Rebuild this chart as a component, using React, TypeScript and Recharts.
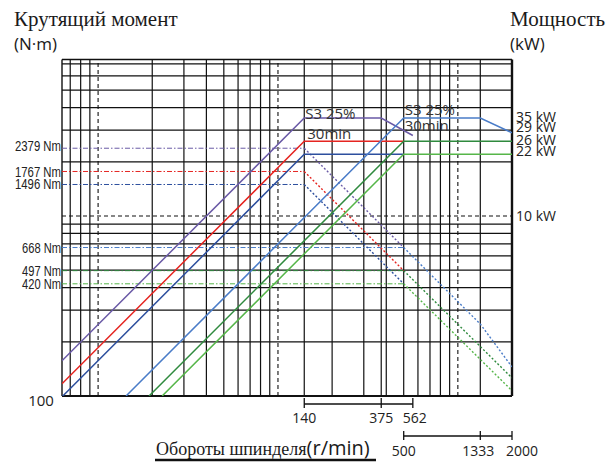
import React from 'react';
import { LineChart, Line, XAxis, YAxis, ReferenceLine, ReferenceDot } from 'recharts';

const RPM_DOMAIN: [number, number] = [6.3, 2000];
const NM_DOMAIN: [number, number] = [100, 7400];
const KW_DOMAIN: [number, number] = [1, 74];

// log grid
const GRID_RPM = [7, 8, 9, 20, 30, 40, 50, 60, 70, 80, 90, 140, 200, 300, 375, 400, 500, 600, 700, 800, 900, 1333];
const GRID_RPM_DASHED = [10, 100, 1000];
const GRID_NM = [200, 300, 400, 500, 600, 700, 800, 900, 2000, 3000, 4000, 5000, 6000, 7000];
const GRID_NM_DASHED = [1000];

const NM_TICKS = [100, 420, 497, 668, 1496, 1767, 2379];
const KW_TICKS = [10, 22, 26, 29, 35];
const LOW_RPM_TICKS = [140, 375, 562];
const HIGH_RPM_TICKS = [500, 1333, 2000];

// power (kW), low gear
const powerS3Low = [{ rpm: 6.3, kw: 1.57 }, { rpm: 140, kw: 35 }, { rpm: 375, kw: 35 }, { rpm: 562, kw: 28 }];
const powerS1Low = [{ rpm: 6.3, kw: 1.17 }, { rpm: 140, kw: 26 }, { rpm: 500, kw: 26 }];
const powerContLow = [{ rpm: 6.3, kw: 0.99 }, { rpm: 140, kw: 22 }, { rpm: 500, kw: 22 }];
// power (kW), high gear
const powerS3High = [{ rpm: 14.3, kw: 1 }, { rpm: 500, kw: 35 }, { rpm: 1333, kw: 35 }, { rpm: 2000, kw: 29 }];
const powerS1High = [{ rpm: 19.2, kw: 1 }, { rpm: 500, kw: 26 }, { rpm: 2000, kw: 26 }];
const powerContHigh = [{ rpm: 22.7, kw: 1 }, { rpm: 500, kw: 22 }, { rpm: 2000, kw: 22 }];

// torque (Nm), constant part
const torqueS3Low = [{ rpm: 6.3, nm: 2379 }, { rpm: 140, nm: 2379 }];
const torqueS1Low = [{ rpm: 6.3, nm: 1767 }, { rpm: 140, nm: 1767 }];
const torqueContLow = [{ rpm: 6.3, nm: 1496 }, { rpm: 140, nm: 1496 }];
const torqueS3High = [{ rpm: 6.3, nm: 668 }, { rpm: 500, nm: 668 }];
const torqueS1High = [{ rpm: 6.3, nm: 497 }, { rpm: 500, nm: 497 }];
const torqueContHigh = [{ rpm: 6.3, nm: 420 }, { rpm: 500, nm: 420 }];
// torque (Nm), falling part
const fallS3Low = [{ rpm: 140, nm: 2379 }, { rpm: 500, nm: 668 }];
const fallS1Low = [{ rpm: 140, nm: 1767 }, { rpm: 500, nm: 497 }];
const fallContLow = [{ rpm: 140, nm: 1496 }, { rpm: 500, nm: 420 }];
const fallS3High = [{ rpm: 500, nm: 668 }, { rpm: 1333, nm: 251 }, { rpm: 2000, nm: 145 }];
const fallS1High = [{ rpm: 500, nm: 497 }, { rpm: 2000, nm: 126 }];
const fallContHigh = [{ rpm: 500, nm: 420 }, { rpm: 2000, nm: 107 }];

const C = {
  purple: '#6a5aa6',
  red: '#e52521',
  blue: '#2d4f9e',
  sky: '#4a7cc8',
  dkgreen: '#2f8a3e',
  ltgreen: '#56b649',
};

const DASHDOT = '5 2 1.5 2';
const DOT = '2 2';

type Series = { data: any[]; key: 'kw' | 'nm'; color: string; dash?: string; width: number };

const SERIES: Series[] = [
  { data: torqueS3Low, key: 'nm', color: C.purple, dash: DASHDOT, width: 1 },
  { data: torqueS1Low, key: 'nm', color: C.red, dash: DASHDOT, width: 1 },
  { data: torqueContLow, key: 'nm', color: C.blue, dash: DASHDOT, width: 1 },
  { data: torqueS3High, key: 'nm', color: C.sky, dash: DASHDOT, width: 1 },
  { data: torqueS1High, key: 'nm', color: C.dkgreen, dash: DASHDOT, width: 1 },
  { data: torqueContHigh, key: 'nm', color: C.ltgreen, dash: DASHDOT, width: 1 },
  { data: fallS3Low, key: 'nm', color: C.purple, dash: DOT, width: 1.4 },
  { data: fallS1Low, key: 'nm', color: C.red, dash: DOT, width: 1.4 },
  { data: fallContLow, key: 'nm', color: C.blue, dash: DOT, width: 1.4 },
  { data: fallS3High, key: 'nm', color: C.sky, dash: DOT, width: 1.4 },
  { data: fallS1High, key: 'nm', color: C.dkgreen, dash: DOT, width: 1.4 },
  { data: fallContHigh, key: 'nm', color: C.ltgreen, dash: DOT, width: 1.4 },
  { data: powerS3Low, key: 'kw', color: C.purple, width: 1.5 },
  { data: powerS1Low, key: 'kw', color: C.red, width: 1.5 },
  { data: powerContLow, key: 'kw', color: C.blue, width: 1.5 },
  { data: powerS3High, key: 'kw', color: C.sky, width: 1.5 },
  { data: powerS1High, key: 'kw', color: C.dkgreen, width: 1.5 },
  { data: powerContHigh, key: 'kw', color: C.ltgreen, width: 1.5 },
];

const SANS = "'Open Sans', 'Noto Sans', sans-serif";
const NARROW = "'Liberation Sans', sans-serif";
const SERIF = "'Liberation Serif', serif";
const INK = '#222';

// axis ids: the one nearest the plot must sort first
const X_LOW = 'a-low';
const X_HIGH = 'b-high';

// small label nudges so the crowded labels sit like in the print
const NM_SHIFT: Record<number, number> = { 2379: -3, 1496: -1 };
const KW_SHIFT: Record<number, number> = { 35: -1, 29: -5.5, 26: -1.5, 22: -3.5, 10: 0 };
const RPM_SHIFT: Record<number, number> = { 562: 2, 1333: -2, 2000: 10 };

function NmTick({ x, y, payload }: any) {
  const v = payload.value;
  if (v === 100) {
    return (
      <text x={x - 21} y={y + 10} textAnchor="middle" fontFamily={SANS} fontSize={15} fill={INK}>
        100
      </text>
    );
  }
  const label = `${v} Nm`;
  // condensed face in the print: squeeze to the measured width
  const w = label.length > 6 ? 46 : 39;
  return (
    <text
      x={x - 1 - w}
      y={y + (NM_SHIFT[v] ?? 0)}
      dy="0.36em"
      textAnchor="start"
      fontFamily={NARROW}
      fontSize={15}
      fill={INK}
      textLength={w}
      lengthAdjust="spacingAndGlyphs"
    >
      {label}
    </text>
  );
}

function KwTick({ x, y, payload }: any) {
  const v = payload.value;
  return (
    <text x={x + 4} y={y + (KW_SHIFT[v] ?? 0)} dy="0.36em" textAnchor="start" fontFamily={SANS} fontSize={14} fill={INK}>
      {v} kW
    </text>
  );
}

function LowTick({ x, y, payload }: any) {
  const v = payload.value;
  return (
    <g>
      <line x1={x} x2={x} y1={y + 2} y2={y + 12} stroke="#111" strokeWidth={1.3} />
      <text x={x + (RPM_SHIFT[v] ?? 0)} y={y + 27} textAnchor="middle" fontFamily={SANS} fontSize={14} fill={INK}>
        {v}
      </text>
    </g>
  );
}

function HighTick({ x, y, payload }: any) {
  const v = payload.value;
  return (
    <g>
      <line x1={x} x2={x} y1={y - 5} y2={y + 4} stroke="#111" strokeWidth={1.3} />
      <text x={x + (RPM_SHIFT[v] ?? 0)} y={y + 20} textAnchor="middle" fontFamily={SANS} fontSize={14} fill={INK}>
        {v}
      </text>
    </g>
  );
}

function note(lines: { text: string; dx: number; dy: number }[]) {
  return (p: any) => (
    <g>
      {lines.map((l) => (
        <text key={l.text} x={p.cx + l.dx} y={p.cy + l.dy} fontFamily={SANS} fontSize={15} fill="#333">
          {l.text}
        </text>
      ))}
    </g>
  );
}

export default function App() {
  const ax = { xAxisId: X_LOW, yAxisId: 'nm' } as const;
  return (
    <div style={{ position: 'absolute', left: 0, top: 0, width: 606, height: 467, background: '#fff' }}>
      <LineChart width={606} height={467} margin={{ top: 59.5, right: 0, bottom: 0, left: 0 }}>
        <XAxis
          xAxisId={X_LOW}
          dataKey="rpm"
          type="number"
          scale="log"
          domain={RPM_DOMAIN}
          allowDataOverflow
          ticks={LOW_RPM_TICKS}
          interval={0}
          height={40}
          axisLine={false}
          tickLine={false}
          tickSize={0}
          tickMargin={0}
          tick={<LowTick />}
        />
        <XAxis
          xAxisId={X_HIGH}
          dataKey="rpm"
          type="number"
          scale="log"
          domain={RPM_DOMAIN}
          allowDataOverflow
          ticks={HIGH_RPM_TICKS}
          interval={0}
          height={31}
          axisLine={false}
          tickLine={false}
          tickSize={0}
          tickMargin={0}
          tick={<HighTick />}
        />
        <YAxis
          yAxisId="nm"
          type="number"
          scale="log"
          domain={NM_DOMAIN}
          allowDataOverflow
          ticks={NM_TICKS}
          interval={0}
          width={62}
          axisLine={false}
          tickLine={false}
          tickSize={0}
          tickMargin={0}
          tick={<NmTick />}
        />
        <YAxis
          yAxisId="kw"
          orientation="right"
          type="number"
          scale="log"
          domain={KW_DOMAIN}
          allowDataOverflow
          ticks={KW_TICKS}
          interval={0}
          width={94}
          axisLine={false}
          tickLine={false}
          tickSize={0}
          tickMargin={0}
          tick={<KwTick />}
        />

        {GRID_RPM.map((v) => (
          <ReferenceLine key={`gx${v}`} {...ax} x={v} stroke="#111" strokeWidth={1.2} />
        ))}
        {GRID_RPM_DASHED.map((v) => (
          <ReferenceLine key={`gxd${v}`} {...ax} x={v} stroke="#111" strokeWidth={1.1} strokeDasharray="4 3" />
        ))}
        {GRID_NM.map((v) => (
          <ReferenceLine key={`gy${v}`} {...ax} y={v} stroke="#111" strokeWidth={1.2} />
        ))}
        {GRID_NM_DASHED.map((v) => (
          <ReferenceLine key={`gyd${v}`} {...ax} y={v} stroke="#111" strokeWidth={1.1} strokeDasharray="4 3" />
        ))}
        <ReferenceLine {...ax} x={RPM_DOMAIN[0]} stroke="#111" strokeWidth={1.4} ifOverflow="visible" />
        <ReferenceLine {...ax} x={RPM_DOMAIN[1]} stroke="#111" strokeWidth={2.4} ifOverflow="visible" />
        <ReferenceLine {...ax} y={NM_DOMAIN[0]} stroke="#111" strokeWidth={2} ifOverflow="visible" />
        <ReferenceLine {...ax} y={NM_DOMAIN[1]} stroke="#111" strokeWidth={1.4} ifOverflow="visible" />

        {/* speed-range brackets under the plot */}
        <ReferenceLine
          {...ax}
          segment={[{ x: LOW_RPM_TICKS[0], y: 90.3 }, { x: LOW_RPM_TICKS[2], y: 90.3 }]}
          stroke="#111"
          strokeWidth={1.4}
          ifOverflow="visible"
        />
        <ReferenceLine
          {...ax}
          segment={[{ x: HIGH_RPM_TICKS[0], y: 59.9 }, { x: HIGH_RPM_TICKS[2], y: 59.9 }]}
          stroke="#111"
          strokeWidth={1.4}
          ifOverflow="visible"
        />

        {SERIES.map((s, i) => (
          <Line
            key={i}
            xAxisId={X_LOW}
            yAxisId={s.key}
            data={s.data}
            dataKey={s.key}
            type="linear"
            stroke={s.color}
            strokeWidth={s.width}
            strokeDasharray={s.dash}
            dot={false}
            activeDot={false}
            isAnimationActive={false}
          />
        ))}

        <ReferenceDot
          xAxisId={X_LOW}
          yAxisId="kw"
          x={140}
          y={35}
          r={0}
          shape={note([
            { text: 'S3 25%', dx: 1, dy: 1 },
            { text: '30min', dx: 3, dy: 21 },
          ])}
        />
        <ReferenceDot
          xAxisId={X_LOW}
          yAxisId="kw"
          x={500}
          y={35}
          r={0}
          shape={note([
            { text: 'S3 25%', dx: 1, dy: -3 },
            { text: '30min', dx: 1, dy: 13 },
          ])}
        />
      </LineChart>

      <svg width={606} height={467} style={{ position: 'absolute', left: 0, top: 0, pointerEvents: 'none' }}>
        <text x={14} y={26} fontFamily={SERIF} fontSize={21} fill="#1a1a1a">Крутящий момент</text>
        <text x={14} y={50} fontFamily={SANS} fontSize={17} fill="#1a1a1a">(N·m)</text>
        <text x={510} y={26} fontFamily={SERIF} fontSize={21} fill="#1a1a1a">Мощность</text>
        <text x={510} y={50} fontFamily={SANS} fontSize={17} fill="#1a1a1a">(kW)</text>
        <text x={156} y={455} fontFamily={SERIF} fontSize={18} fill="#1a1a1a">
          Обороты шпинделя<tspan fontFamily={SANS} fontSize={20}>(r/min)</tspan>
        </text>
        <line x1={155} x2={376} y1={460} y2={460} stroke="#111" strokeWidth={2.5} />
      </svg>
    </div>
  );
}
